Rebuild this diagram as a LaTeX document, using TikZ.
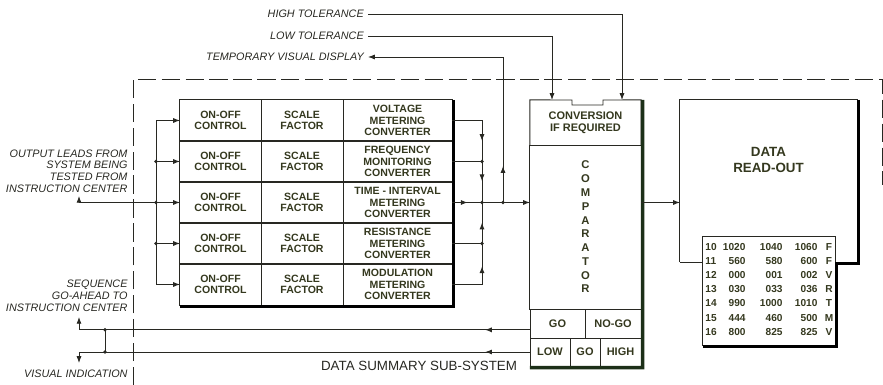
\documentclass[tikz,border=0pt]{standalone}
\usepackage{fontspec}
\setmainfont{Liberation Sans}
\usetikzlibrary{arrows.meta,positioning,decorations.markings}
\definecolor{ink}{RGB}{40,40,34}
\definecolor{olive}{RGB}{52,56,30}
\definecolor{shade}{RGB}{28,48,24}

\begin{document}
\begin{tikzpicture}[x=0.025cm,y=-0.025cm,line width=0.7pt,draw=ink,
  >={Latex[length=4.8pt,width=3.6pt]},
  midarr/.style={postaction={decorate,decoration={markings,
    mark=at position #1 with {\arrow{>}}}}}]
\tikzstyle{cell}=[draw=ink,minimum height=1.025cm,inner sep=0pt,outer sep=0pt,
align=center,font=\bfseries\fontsize{7.5}{8}\selectfont,text=olive]
\tikzstyle{sect}=[draw=ink,inner sep=0pt,outer sep=0pt,align=center,
font=\bfseries\fontsize{7.8}{8.4}\selectfont,text=olive]
\tikzstyle{lbl}=[anchor=east,align=right,inner sep=0pt,
font=\itshape\fontsize{7.7}{8.4}\selectfont,text=ink]
\tikzstyle{toplbl}=[lbl,outer sep=3pt]
\tikzstyle{num}=[inner sep=0pt,font=\bfseries\fontsize{7.2}{8}\selectfont,text=olive]
\tikzstyle{shadow}=[line width=2.2pt,draw=black]
\useasboundingbox (0,0) rectangle (883,385);

% sub-system boundary
\draw[dash pattern=on 13pt off 4pt] (133,385) -- (133,79) -- (882,79) -- (882,185);

% converter chain
\foreach \i/\cv in {1/{VOLTAGE\\METERING\\CONVERTER},
  2/{FREQUENCY\\MONITORING\\CONVERTER},3/{TIME - INTERVAL\\METERING\\CONVERTER},
  4/{RESISTANCE\\METERING\\CONVERTER},5/{MODULATION\\METERING\\CONVERTER}}{
  \node[cell,minimum width=2.025cm] (ctl\i) at (220.5,{79.5+41*\i}) {ON-OFF\\CONTROL};
  \node[cell,minimum width=2.05cm,right=0pt of ctl\i] (sf\i) {SCALE\\FACTOR};
  \node[cell,minimum width=2.725cm,right=0pt of sf\i] (cv\i) {\cv};
}
\draw[shadow] ([xshift=1.1pt]cv1.north east) -- ([xshift=1.1pt,yshift=-1.1pt]cv5.south east)
  -- ([yshift=-1.1pt]ctl5.south west);

% input leads
\node[lbl] (outl) at (128,171) {OUTPUT LEADS FROM\\SYSTEM BEING\\TESTED FROM\\INSTRUCTION CENTER};
\coordinate (inpt) at (79,196);
\coordinate (lbus) at (156,202.5);
\draw[<->] (inpt) |- (ctl3.west);
\draw[->] (lbus) |- (ctl1.west);
\draw[->] (lbus) |- (ctl5.west);
\draw[->] (lbus |- ctl2.west) -- (ctl2.west);
\draw[->] (lbus |- ctl4.west) -- (ctl4.west);
\fill[ink] (lbus) circle (1.3pt) (lbus |- ctl2.west) circle (1.3pt)
  (lbus |- ctl4.west) circle (1.3pt);

% comparator
\node[sect,draw=none,minimum width=2.775cm,minimum height=1.125cm] (conv) at (585.5,122.5) {CONVERSION\\IF REQUIRED};
\node[sect,minimum width=2.775cm,minimum height=4.1cm,font=\bfseries\fontsize{8}{9.8}\selectfont,
  below=0pt of conv] (cmpr) {C\\O\\M\\P\\A\\R\\A\\T\\O\\R};
\node[sect,minimum width=1.375cm,minimum height=0.725cm] (go) at (557.5,323.5) {GO};
\node[sect,minimum width=1.4cm,minimum height=0.725cm,right=0pt of go] (nogo) {NO-GO};
\node[sect,minimum width=1cm,minimum height=0.7cm] (low) at (550,352) {LOW};
\node[sect,minimum width=0.75cm,minimum height=0.7cm,right=0pt of low] (go2) {GO};
\node[sect,minimum width=1.025cm,minimum height=0.7cm,right=0pt of go2] (high) {HIGH};
\draw (conv.south west) -- (conv.north west) -- (572,100) -- (572,105) -- (603,105)
  -- (603,100) -- (conv.north east) -- (conv.south east);
\draw[shadow,draw=shade,line width=2.5pt] ([xshift=1.2pt]conv.north east)
  -- ([xshift=1.2pt,yshift=-1.2pt]high.south east) -- ([yshift=-1.2pt]low.south west);

% tolerance and display leads
\node[toplbl] (hi) at (368,14) {HIGH TOLERANCE};
\node[toplbl] (lo) at (368,36) {LOW TOLERANCE};
\node[toplbl] (tvd) at (368,57) {TEMPORARY VISUAL DISPLAY};
\coordinate (hin) at (622,100);
\coordinate (lin) at (552,100);
\draw[->] (hi.east) -| (hin);
\draw[->] (lo.east) -| (lin);

% converter outputs
\coordinate (rbus) at (482,202.5);
\coordinate (tjn) at (503,202.5);
\draw[midarr=0.45,midarr=0.81] (cv1.east) -| (rbus);
\draw (cv2.east) -- (cv2.east -| rbus);
\draw (cv4.east) -- (cv4.east -| rbus);
\draw[midarr=0.43,midarr=0.82] (cv5.east) -| (rbus);
\draw[midarr=0.2,->] (cv3.east) -- (cmpr.west |- cv3.east);
\draw[midarr=0.13,->] (tjn) |- (tvd.east);
\fill[ink] (rbus) circle (1.3pt) (tjn) circle (1.3pt)
  (cv2.east -| rbus) circle (1.3pt) (cv4.east -| rbus) circle (1.3pt);

% read-out
\node[minimum width=4.425cm,minimum height=4.05cm,inner sep=0pt,outer sep=0pt] (ro) at (768.5,181) {};
\node[font=\bfseries\fontsize{9.5}{11.5}\selectfont,text=olive,align=center] (rotxt) at (768.5,160) {DATA\\READ-OUT};
\node[draw=ink,minimum width=3.3cm,minimum height=2.7cm,inner sep=0pt,outer sep=0pt] (tbl) at (769,291) {};
\coordinate (rocut) at (ro.south -| tbl.east);
\draw (ro.south west) -- (ro.north west) -- (ro.north east) -- (ro.south east) -- (rocut);
\draw (ro.south west) -- (ro.south -| tbl.west);
\draw[shadow] ([xshift=1.1pt]ro.north east) -- ([xshift=1.1pt,yshift=-1.1pt]ro.south east)
  -- ([xshift=1.1pt,yshift=-1.1pt]rocut) -- ([xshift=1.1pt,yshift=-1.1pt]tbl.south east)
  -- ([yshift=-1.1pt]tbl.south west);
\draw[->] (cmpr.east |- cv3.east) -- (ro.west |- cv3.east);
\foreach \r/\a/\b/\c/\d/\e in {1/10/1020/1040/1060/F,2/11/560/580/600/F,
  3/12/000/001/002/V,4/13/030/033/036/R,5/14/990/1000/1010/T,
  6/15/444/460/500/M,7/16/800/825/825/V}{
  \node[num,anchor=west] (ix\r) at (705,{232.5+14.2*\r}) {\a};
  \node[num,anchor=east] (va\r) at (746,{232.5+14.2*\r}) {\b};
  \node[num,anchor=east] (vb\r) at (783,{232.5+14.2*\r}) {\c};
  \node[num,anchor=east] (vc\r) at (818,{232.5+14.2*\r}) {\d};
  \node[num] (ty\r) at (829,{232.5+14.2*\r}) {\e};
}

% go / no-go returns
\node[lbl] (seq) at (128,296) {SEQUENCE\\GO-AHEAD TO\\INSTRUCTION CENTER};
\node[lbl] (vis) at (128,374) {VISUAL INDICATION};
\node[font=\fontsize{9.5}{11}\selectfont,text=ink] (dss) at (419,366) {DATA SUMMARY SUB-SYSTEM};
\coordinate (gw) at ([yshift=-4.5pt]go.west);
\coordinate (seqpt) at (79,317);
\coordinate (vispt) at (79,363);
\coordinate (jx) at (105,340);
\draw[midarr=0.097,->] (gw) -| (seqpt);
\draw[midarr=0.097,->] (low.west) -| (vispt);
\draw (jx |- gw) -- (jx |- low.west);
\fill[ink] (jx |- gw) circle (1.3pt) (jx |- low.west) circle (1.3pt);
\end{tikzpicture}
\end{document}
